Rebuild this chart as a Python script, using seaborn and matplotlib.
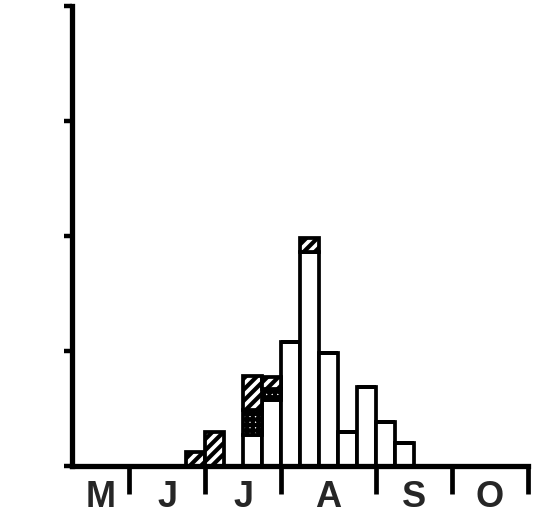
import numpy as np
import pandas as pd
import matplotlib
matplotlib.use("Agg")
import matplotlib.pyplot as plt
import seaborn as sns

# ---- data (week slots from start of May, 4-5 weeks per month) ----
months = ["M", "J", "J", "A", "S", "O"]
month_edges = [0, 3, 7, 11, 16, 20, 24]
week_slots = [6, 7, 9, 10, 11, 12, 13, 14, 15, 16, 17]
white_vals = [0.00, 0.00, 0.27, 0.57, 1.08, 1.86, 0.98, 0.30, 0.69, 0.38, 0.20]
dotted_vals = [0.00, 0.00, 0.22, 0.10, 0.00, 0.00, 0.00, 0.00, 0.00, 0.00, 0.00]
hatched_vals = [0.12, 0.30, 0.29, 0.10, 0.00, 0.12, 0.00, 0.00, 0.00, 0.00, 0.00]
y_ticks = [0, 1, 2, 3, 4]

rows = []
for s, w, d, h in zip(week_slots, white_vals, dotted_vals, hatched_vals):
    rows.append((s + 0.5, w, "white"))
    rows.append((s + 0.5, d, "dotted"))
    rows.append((s + 0.5, h, "hatched"))
df = pd.DataFrame(rows, columns=["week", "value", "kind"])

sns.set_style("white")
plt.rcParams["font.family"] = ["Liberation Sans", "DejaVu Sans"]
plt.rcParams["hatch.linewidth"] = 3.0

fig = plt.figure(figsize=(5.43, 5.16), dpi=100)
ax = fig.add_axes([72 / 543, 1 - 466 / 516, (528 - 72) / 543, (466 - 6) / 516])

kind_colors = {"hatched": "#ff0000", "dotted": "#00ff00", "white": "#0000ff"}
kind_hatch = {"#ff0000": "///", "#00ff00": "+++", "#0000ff": ""}
sns.histplot(data=df, x="week", weights="value", hue="kind",
             hue_order=["hatched", "dotted", "white"], multiple="stack",
             bins=month_edges[-1], binrange=(month_edges[0], month_edges[-1]),
             palette=kind_colors, alpha=1,
             edgecolor="black", linewidth=2.7, legend=False, ax=ax)

for p in ax.patches:
    fc = matplotlib.colors.to_hex(p.get_facecolor())
    p.set_hatch(kind_hatch.get(fc, ""))
    p.set_facecolor("white")
    p.set_edgecolor("black")

ax.set_xlim(0, 24)
ax.set_ylim(0, 4)
ax.set_xlabel("")
ax.set_ylabel("")
sns.despine(ax=ax, top=True, right=True)
for sp in ("left", "bottom"):
    ax.spines[sp].set_linewidth(3.8)
    ax.spines[sp].set_color("black")

ax.set_yticks(y_ticks)
ax.set_yticklabels([])
ax.tick_params(axis="y", which="major", direction="out", length=6, width=3.2, color="black", left=True)

ax.set_xticks(month_edges[1:])
ax.set_xticklabels([])
ax.tick_params(axis="x", which="major", direction="out", length=20, width=3.4, color="black", bottom=True)

centers = [(a + b) / 2 for a, b in zip(month_edges[:-1], month_edges[1:])]
ax.set_xticks(centers, minor=True)
ax.set_xticklabels(months, minor=True, fontsize=26, fontweight="bold")
ax.tick_params(axis="x", which="minor", length=0, pad=10)

fig.savefig("out.png", dpi=100)
